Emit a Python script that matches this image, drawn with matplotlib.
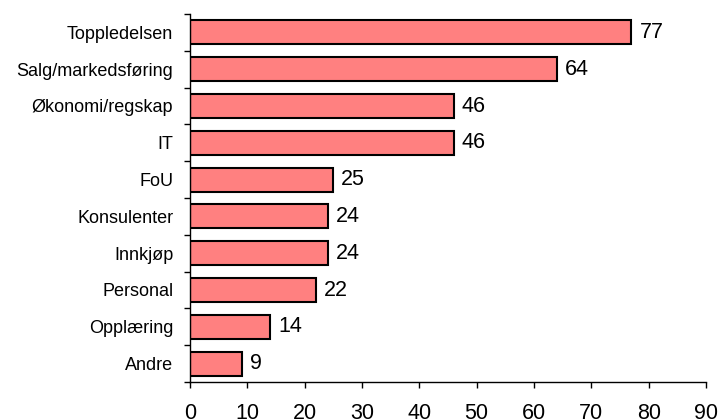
import matplotlib
matplotlib.use("Agg")
import matplotlib.pyplot as plt
import numpy as np

categories = ["Toppledelsen", "Salg/markedsføring", "Økonomi/regskap", "IT", "FoU",
              "Konsulenter", "Innkjøp", "Personal", "Opplæring", "Andre"]
values = [77, 64, 46, 46, 25, 24, 24, 22, 14, 9]
xticks = [0, 10, 20, 30, 40, 50, 60, 70, 80, 90]

plt.rcParams['font.family'] = ['Liberation Sans', 'DejaVu Sans']

fig = plt.figure(figsize=(7.18, 4.2), dpi=100)
ax = fig.add_axes([190/718, 38/420, 516/718, 368/420])

y = np.arange(len(categories))
ax.barh(y, values, height=0.65, color="#FF8080", edgecolor="black", linewidth=1.5)

ax.set_xlim(0, 90)
ax.set_ylim(len(categories) - 0.5, -0.5)
ax.set_xticks(xticks)
ax.set_xticklabels([str(t) for t in xticks], fontsize=15.5)
ax.set_yticks(y)
ax.set_yticklabels(categories, fontsize=13)
ax.set_yticks(np.arange(-0.5, len(categories)), minor=True)
ax.tick_params(axis='y', which='major', length=0, pad=12)
ax.tick_params(axis='y', which='minor', length=4, width=1, direction='out')
ax.tick_params(axis='x', which='major', length=4, width=1, direction='out', pad=11)

for s in ['top', 'right']:
    ax.spines[s].set_visible(False)
for s in ['left', 'bottom']:
    ax.spines[s].set_linewidth(1)

for yi, v in zip(y, values):
    ax.text(v + 1.4, yi, str(v), va='center', ha='left', fontsize=15.5)

fig.savefig("out.png", dpi=100)
